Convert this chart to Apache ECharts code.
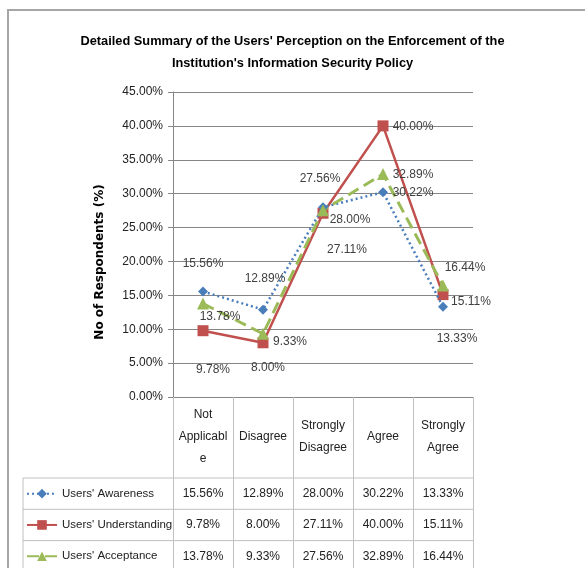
<!DOCTYPE html>
<html><head><meta charset="utf-8">
<script src="https://cdn.jsdelivr.net/npm/echarts@6/dist/echarts.min.js"></script>
<style>html,body{margin:0;padding:0;background:#fff}#c{width:585px;height:568px}</style>
</head><body><div id="c"></div>
<script>
// ---- data ----
const categories = ['Not\nApplicabl\ne', 'Disagree', 'Strongly\nDisagree', 'Agree', 'Strongly\nAgree'];
const seriesNames = ["Users' Awareness", "Users' Understanding", "Users' Acceptance"];
const awareness = [15.56, 12.89, 28.00, 30.22, 13.33];
const understanding = [9.78, 8.00, 27.11, 40.00, 15.11];
const acceptance = [13.78, 9.33, 27.56, 32.89, 16.44];
const yMin = 0, yMax = 45, yStep = 5;
const titleText = "Detailed Summary of the Users' Perception on the Enforcement of the\nInstitution's Information Security Policy";
const yName = 'No of Respondents (%)';

// ---- layout / style (not data) ----
const F = "'Liberation Sans',Arial,sans-serif";
const FS = 12;
const G = {left: 173, right: 473, top: 92, bottom: 397};
const W = 585, H = 568;
const rowTop = 478, rowH = 31.3, legendLeft = 23;
const colors = ['#4a7ebb', '#c0504d', '#9bbb59'];
const labelOffsets = [
  [[0, -28], [2, -31], [27, 12], [30, 1], [14, 32]],
  [[10, 39], [5, 25], [24, 36], [30, 1], [28, 7]],
  [[17, 13], [27, 8], [-3, -32], [30, 1], [22, -18]]
];
const fmt = v => v.toFixed(2) + '%';

const chart = echarts.init(document.getElementById('c'), null, {renderer: 'canvas'});
const allSeries = [awareness, understanding, acceptance];
const symbols = ['diamond', 'rect', 'triangle'];
const symSizes = [10, 11, 12];
const lineTypes = [[2, 3], 'solid', [12, 6]];
const lineWidths = [2.5, 2.5, 3];

const series = allSeries.map((vals, s) => ({
  name: seriesNames[s],
  type: 'line',
  data: vals.map((v, i) => ({value: v, label: {offset: labelOffsets[s][i]}})),
  symbol: symbols[s],
  symbolSize: symSizes[s],
  itemStyle: {color: colors[s]},
  lineStyle: {color: colors[s], width: lineWidths[s], type: lineTypes[s]},
  label: {show: true, position: 'inside', formatter: p => fmt(p.value),
          fontFamily: F, fontSize: FS, color: '#404040'},
  emphasis: {disabled: true},
  animation: false,
  z: s === 1 ? 3 : 4
}));

const legends = seriesNames.map((n, s) => ({
  orient: 'horizontal', left: legendLeft + 3, top: rowTop + rowH * s + rowH / 2 - 6,
  padding: 0, itemWidth: 30, itemHeight: 12, data: [n], selectedMode: false,
  textStyle: {fontFamily: F, fontSize: 11.5, color: '#222'}
}));

chart.setOption({
  backgroundColor: '#fff',
  animation: false,
  title: {text: titleText, left: 'center', top: 25,
          textStyle: {fontFamily: F, fontSize: 12.8, fontWeight: 'bold', color: '#000', lineHeight: 22}},
  grid: {left: G.left, right: W - G.right, top: G.top, bottom: H - G.bottom, containLabel: false},
  legend: legends,
  xAxis: {type: 'category', data: categories, boundaryGap: true,
          axisLine: {lineStyle: {color: '#868686'}},
          axisTick: {show: true, length: H - G.bottom + 5, lineStyle: {color: '#c0c0c0'}},
          axisLabel: {interval: 0, margin: 40, verticalAlign: 'middle', lineHeight: 22, fontFamily: F, fontSize: FS, color: '#222'}},
  yAxis: {type: 'value', min: yMin, max: yMax, interval: yStep,
          axisLine: {show: true, lineStyle: {color: '#868686'}},
          axisTick: {show: true, length: 5, lineStyle: {color: '#868686'}},
          splitLine: {lineStyle: {color: '#868686'}},
          axisLabel: {formatter: fmt, margin: 10, fontFamily: F, fontSize: FS, color: '#222'}},
  series: series
});

// table + decorations via graphic
const graphics = [];
graphics.push({type: 'rect', shape: {x: 8, y: 10, width: W - 6, height: H}, style: {fill: null, stroke: '#a6a6a6', lineWidth: 2}, silent: true});
for (let r = 0; r < 3; r++) {
  const y = rowTop + rowH * r;
  graphics.push({type: 'line', shape: {x1: legendLeft, y1: y, x2: G.right, y2: y}, style: {stroke: '#c0c0c0', lineWidth: 1}, silent: true});
}
graphics.push({type: 'line', shape: {x1: legendLeft, y1: rowTop, x2: legendLeft, y2: H + 5}, style: {stroke: '#c0c0c0', lineWidth: 1}, silent: true});
allSeries.forEach((vals, s) => {
  vals.forEach((v, i) => {
    const x = chart.convertToPixel({xAxisIndex: 0}, i);
    graphics.push({type: 'text', x: x, y: rowTop + rowH * s + rowH / 2, silent: true,
      style: {text: fmt(v), fontFamily: F, fontSize: FS, fill: '#222', align: 'center', verticalAlign: 'middle'}});
  });
});
graphics.push({type: 'text', x: 100, y: 262, rotation: Math.PI / 2, silent: true,
  style: {text: yName, fontFamily: "'DejaVu Sans',sans-serif", fontSize: 12, fontWeight: 'bold', fill: '#000', align: 'center', verticalAlign: 'middle'}});
chart.setOption({graphic: graphics});
</script></body></html>
